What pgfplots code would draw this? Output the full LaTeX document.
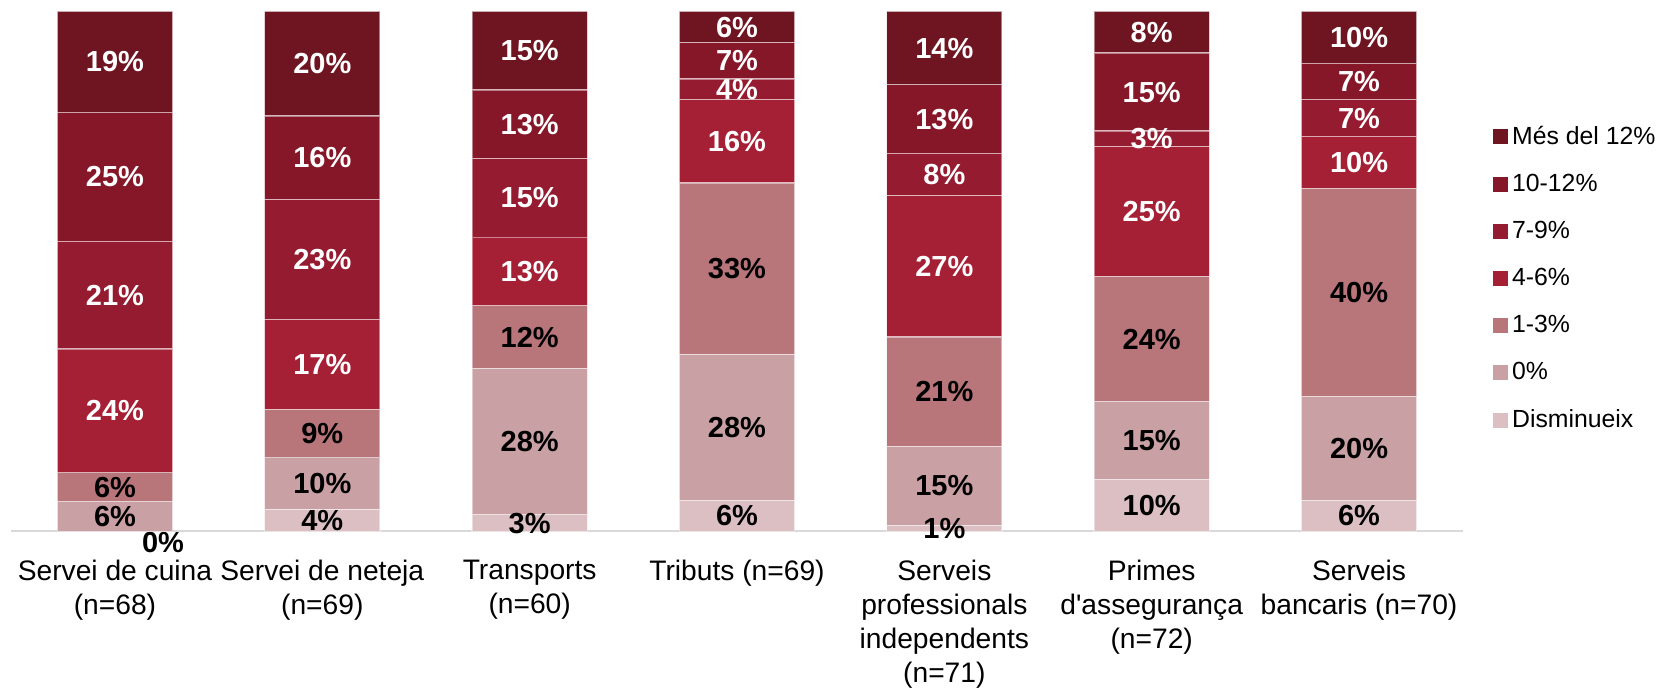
\documentclass[border=0pt]{standalone}
\usepackage{pgfplots}
\pgfplotsset{compat=1.18}
\usepackage{fontspec}
\setmainfont{Liberation Sans}
\definecolor{cA}{HTML}{6F1421}
\definecolor{cB}{HTML}{861728}
\definecolor{cC}{HTML}{951B30}
\definecolor{cD}{HTML}{A51F35}
\definecolor{cE}{HTML}{B8757A}
\definecolor{cF}{HTML}{C9A0A3}
\definecolor{cG}{HTML}{DBBFC3}
\definecolor{axgray}{HTML}{D9D9D9}
\begin{document}
\begin{tikzpicture}
\useasboundingbox (-5.65pt,-79.25pt) rectangle (826.85pt,265.75pt);
\begin{axis}[
  at={(0,0)}, anchor=south west,
  scale only axis,
  width=725.7pt, height=260pt,
  ybar stacked, bar width=57.6pt,
  xmin=-0.5, xmax=6.5, ymin=0, ymax=100,
  enlarge x limits=false, enlarge y limits=false,
  clip=false,
  axis y line=none,
  axis x line=bottom,
  axis line style={-, axgray, line width=1pt},
  xtick={0,...,6},
  major tick length=0pt,
  xticklabels={{Servei de cuina\\(n=68)},{Servei de neteja\\(n=69)},{Transports\\(n=60)},{Tributs (n=69)},{Serveis\\professionals\\independents\\(n=71)},{Primes\\d\textquotesingle assegurança\\(n=72)},{Serveis\\bancaris (n=70)}},
  xticklabel style={align=center, anchor=north, inner sep=0pt, yshift=-14pt,
    font=\fontsize{14.1}{17}\selectfont, text=black},
  ytick=\empty,
  /pgf/number format/assume math mode=true,
  nodes near coords={\pgfmathprintnumber[fixed, precision=0]{\pgfplotspointmeta}\%},
  every node near coord/.append style={anchor=center,
    font=\bfseries\fontsize{14.5}{17}\selectfont, inner sep=0pt},
  every axis plot/.append style={draw=white, draw opacity=0.45, line width=0.6pt},
  legend image code/.code={\fill[#1, draw=none] (0pt,-3.75pt) rectangle (7.5pt,3.75pt);},
  reverse legend,
  legend cell align=left,
  legend style={draw=none, fill=none, at={(axis description cs:1,0.487)}, anchor=west,
    xshift=15pt, font=\fontsize{12.4}{15}\selectfont, row sep=9.4pt,
    inner xsep=0pt},
]
\addplot[fill=cG, every node near coord/.append style={text=black}]
  coordinates {(0,0)(1,4.2)(2,3.2)(3,6)(4,1.2)(5,10)(6,6)};
\addplot[fill=cF, every node near coord/.append style={text=black}]
  coordinates {(0,5.7)(1,10.1)(2,28.1)(3,28)(4,15.1)(5,15)(6,20)};
\addplot[fill=cE, every node near coord/.append style={text=black}]
  coordinates {(0,5.7)(1,9.2)(2,12.1)(3,33)(4,21.1)(5,24)(6,40)};
\addplot[fill=cD, every node near coord/.append style={text=white}]
  coordinates {(0,23.7)(1,17.2)(2,13.2)(3,16)(4,27.2)(5,25)(6,10)};
\addplot[fill=cC, every node near coord/.append style={text=white}]
  coordinates {(0,20.7)(1,23.1)(2,15.1)(3,4)(4,8.1)(5,3)(6,7)};
\addplot[fill=cB, every node near coord/.append style={text=white}]
  coordinates {(0,24.8)(1,16.1)(2,13.2)(3,7)(4,13.2)(5,15)(6,7)};
\addplot[fill=cA, every node near coord/.append style={text=white}]
  coordinates {(0,19.4)(1,20.1)(2,15.1)(3,6)(4,14.1)(5,8)(6,10)};
\legend{Disminueix,0\%,1-3\%,4-6\%,7-9\%,10-12\%,Més del 12\%}
\node[font=\bfseries\fontsize{14.5}{17}\selectfont, inner sep=0pt, text=black,
  xshift=24pt, yshift=-5.6pt] at (axis cs:0,0) {0\%};
\end{axis}
\end{tikzpicture}
\end{document}
